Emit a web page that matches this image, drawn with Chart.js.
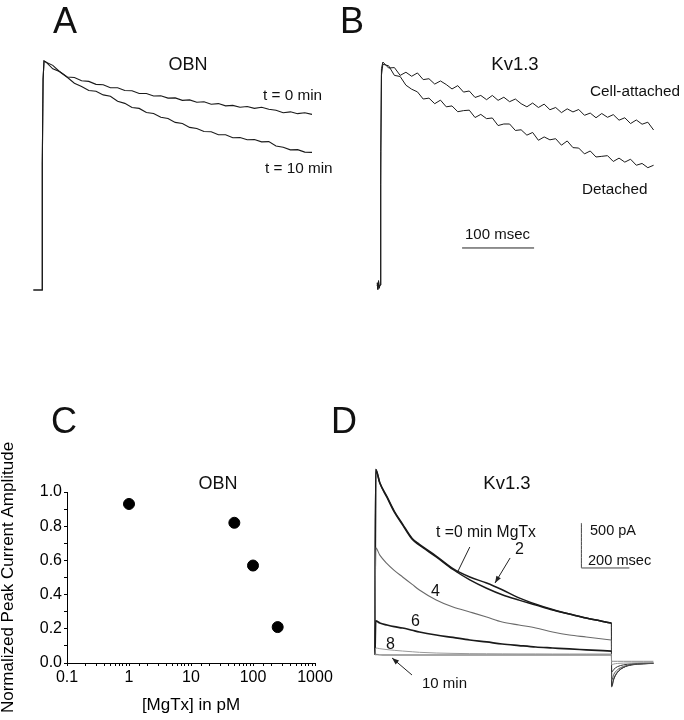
<!DOCTYPE html>
<html>
<head>
<meta charset="utf-8">
<script src="https://cdn.jsdelivr.net/npm/chart.js@4.4.1/dist/chart.umd.min.js"></script>
<style>
  body { margin: 0; background: #fff; }
  #fig { position: relative; width: 684px; height: 720px; overflow: hidden;
         font-family: Arial, "Liberation Sans", Helvetica, sans-serif; color: #111; }
  #fig canvas { position: absolute; }
  .lbl { position: absolute; line-height: 1; white-space: nowrap; }
  .ctr { transform: translateX(-50%); }
  .panel { font-size: 36px; }
</style>
</head>
<body>
<div id="fig">
  <canvas id="chartA"></canvas>
  <canvas id="chartB"></canvas>
  <canvas id="chartC"></canvas>
  <canvas id="chartD"></canvas>

  <div class="lbl panel" style="left:53px;top:3px">A</div>
  <div class="lbl panel" style="left:340px;top:3px">B</div>
  <div class="lbl panel" style="left:51px;top:403px">C</div>
  <div class="lbl panel" style="left:331px;top:403px">D</div>

  <div class="lbl ctr" style="left:188px;top:55px;font-size:18px">OBN</div>
  <div class="lbl" style="left:263px;top:87px;font-size:15.3px">t = 0 min</div>
  <div class="lbl" style="left:265px;top:160px;font-size:15.3px">t = 10 min</div>

  <div class="lbl ctr" style="left:515px;top:55px;font-size:18.5px">Kv1.3</div>
  <div class="lbl" style="left:590px;top:83px;font-size:15.3px">Cell-attached</div>
  <div class="lbl" style="left:582px;top:181px;font-size:15.3px">Detached</div>
  <div class="lbl" style="left:465px;top:226px;font-size:15px">100 msec</div>

  <div class="lbl ctr" style="left:218px;top:474px;font-size:18px">OBN</div>

  <div class="lbl ctr" style="left:507px;top:474px;font-size:18.5px">Kv1.3</div>
  <div class="lbl" style="left:436px;top:524px;font-size:15.7px">t =0 min MgTx</div>
  <div class="lbl" style="left:515px;top:541px;font-size:16px">2</div>
  <div class="lbl" style="left:431px;top:583px;font-size:16px">4</div>
  <div class="lbl" style="left:411px;top:613px;font-size:16px">6</div>
  <div class="lbl" style="left:386px;top:636px;font-size:16px">8</div>
  <div class="lbl" style="left:422px;top:675px;font-size:15px">10 min</div>
  <div class="lbl" style="left:590px;top:523px;font-size:14.5px">500 pA</div>
  <div class="lbl" style="left:588px;top:553px;font-size:14.6px">200 msec</div>
</div>

<script>
// ---- Panel A: OBN currents (time in ms, amplitude normalised to peak) ----
const aTimes = [-12, 0, 0.4, 1.5, 2.8, 5, 15, 25, 35, 45, 55, 65, 75, 85, 95, 105, 115, 125, 135, 145,
  155, 165, 175, 185, 195, 205, 215, 225, 235, 245, 255, 265, 275, 285, 295, 305, 315, 325, 335, 345,
  355, 365, 375];
const aTrace0min = [0, 0, 0.55, 0.92, 1.0, 0.997, 0.966, 0.953, 0.930, 0.928, 0.914, 0.911, 0.898,
  0.896, 0.883, 0.883, 0.871, 0.870, 0.858, 0.858, 0.847, 0.848, 0.838, 0.839, 0.828, 0.830, 0.820,
  0.822, 0.811, 0.814, 0.804, 0.806, 0.798, 0.801, 0.793, 0.798, 0.789, 0.785, 0.774, 0.778, 0.770,
  0.774, 0.767];
const aTrace10min = [0, 0, 0.55, 0.92, 1.0, 0.996, 0.981, 0.952, 0.929, 0.903, 0.889, 0.871, 0.868,
  0.852, 0.846, 0.824, 0.815, 0.797, 0.793, 0.775, 0.771, 0.754, 0.749, 0.732, 0.727, 0.710, 0.705,
  0.692, 0.691, 0.678, 0.678, 0.665, 0.666, 0.656, 0.657, 0.647, 0.648, 0.629, 0.623, 0.612, 0.613,
  0.602, 0.601];

// ---- Panel B: Kv1.3 currents ----
const bTimes = [-4, -3, -2, -1, 0, 1, 2, 4, 12, 20, 28, 36, 44, 52, 60, 68, 76, 84, 92, 100, 108, 116,
  124, 132, 140, 148, 156, 164, 172, 180, 188, 196, 204, 212, 220, 228, 236, 244, 252, 260, 268, 276,
  284, 292, 300, 308, 316, 324, 332, 340, 348, 356, 364, 372, 380];
const bAttached = [0.01, -0.02, 0.015, -0.01, 0, 0.6, 0.97, 1.0, 0.973, 0.975, 0.940, 0.954, 0.936,
  0.951, 0.921, 0.925, 0.901, 0.915, 0.899, 0.879, 0.894, 0.865, 0.870, 0.841, 0.850, 0.831, 0.850,
  0.828, 0.842, 0.822, 0.834, 0.813, 0.799, 0.816, 0.796, 0.811, 0.786, 0.796, 0.773, 0.790, 0.776,
  0.787, 0.761, 0.771, 0.750, 0.769, 0.752, 0.764, 0.739, 0.750, 0.724, 0.740, 0.721, 0.730, 0.695];
const bDetached = [0, -0.01, 0.02, -0.015, 0, 0.45, 0.94, 0.99, 0.983, 0.940, 0.935, 0.896, 0.878,
  0.866, 0.834, 0.838, 0.813, 0.829, 0.799, 0.803, 0.777, 0.782, 0.784, 0.751, 0.765, 0.746, 0.749,
  0.715, 0.722, 0.722, 0.693, 0.696, 0.672, 0.684, 0.649, 0.664, 0.651, 0.656, 0.627, 0.646, 0.616,
  0.614, 0.588, 0.601, 0.574, 0.577, 0.580, 0.554, 0.569, 0.551, 0.564, 0.537, 0.545, 0.526, 0.537];
// scale bar: 100 msec
const bBarTimes = [114, 214];
const bBarLevel = [0.166, 0.166];

// ---- Panel C: dose response ----
const mgtxConc = [1, 50, 100, 250];        // pM
const peakAmp = [0.93, 0.82, 0.57, 0.21];  // normalised

// ---- Panel D: Kv1.3 currents during MgTx (time ms, current pA) ----
const dTimes = [0, 3, 20, 50, 80, 115, 155, 185, 255, 325, 395, 465, 530, 600, 670, 740, 810, 880, 985];
const d0min = [0, 2060, 1910, 1750, 1590, 1445, 1285, 1220, 1090, 950, 835, 742, 670, 610, 556, 500,
  455, 410, 355];
const d2min = [0, 2060, 1915, 1760, 1600, 1455, 1295, 1230, 1100, 960, 867, 800, 725, 635, 565, 505,
  455, 410, 355];
const d4min = [0, 1190, 1110, 1015, 940, 867, 785, 722, 612, 533, 478, 422, 367, 333, 300, 256, 222,
  200, 167];
const d6min = [0, 380, 355, 333, 315, 300, 275, 256, 222, 195, 167, 145, 122, 105, 89, 78, 67, 58, 44];
const d8min = [0, 78, 70, 60, 52, 44, 36, 30, 22, 18, 15, 14, 13, 12, 12, 11, 11, 11, 11];
const d10min = [0, 8, 2, 0, 0, 0, 0, 0, 0, 0, 0, 0, 0, 0, 0, 0, 0, 0, 0];
// tail currents after the step
const dTailTimes = [985, 986, 995, 1010, 1035, 1070, 1120, 1160];
const d0tail = [355, -355, -270, -195, -140, -110, -98, -93];
const d2tail = [355, -340, -260, -190, -138, -108, -97, -92];
const d4tail = [167, -280, -215, -165, -128, -106, -96, -92];
const d6tail = [44, -190, -160, -130, -110, -98, -92, -90];
const d8tail = [11, -110, -100, -94, -90, -88, -86, -85];
const d10tail = [0, -70, -70, -70, -70, -70, -70, -70];
// scale bar: 500 pA / 200 msec
const dBarTimes = [860, 860, 1060];
const dBarCurrent = [1467, 967, 967];
// label arrows
const dArrow0T = [395, 342], dArrow0I = [1200, 911];
const dArrow2T = [563, 500], dArrow2I = [1078, 800];
const dArrow10T = [154, 71], dArrow10I = [-222, -33];

Chart.defaults.font.family = 'Arial, "Liberation Sans", Helvetica, sans-serif';
Chart.defaults.color = '#111';

function pairs(xs, ys) {
  return xs.map((x, i) => ({ x: x, y: ys[i] }));
}

function trace(xs, ys, color, width, extra) {
  return Object.assign({ data: pairs(xs, ys), borderColor: color, backgroundColor: color,
    borderWidth: width, pointRadius: 0, clip: false, fill: false }, extra || {});
}

// draws a filled head at the last point of datasets flagged arrowHead
const arrowHeads = {
  id: 'arrowHeads',
  afterDatasetsDraw(chart) {
    const ctx = chart.ctx;
    chart.data.datasets.forEach((ds, i) => {
      if (!ds.arrowHead) return;
      const pts = chart.getDatasetMeta(i).data;
      const a = pts[pts.length - 2], b = pts[pts.length - 1];
      const ang = Math.atan2(b.y - a.y, b.x - a.x);
      ctx.save();
      ctx.translate(b.x, b.y);
      ctx.rotate(ang);
      ctx.beginPath();
      ctx.moveTo(0, 0);
      ctx.lineTo(-7, -2.6);
      ctx.lineTo(-7, 2.6);
      ctx.closePath();
      ctx.fillStyle = ds.borderColor;
      ctx.fill();
      ctx.restore();
    });
  }
};

// chart with hidden axes; box = canvas on page, o = where (0,0) falls and px per unit
function traceChart(id, box, o, datasets, smooth) {
  const cv = document.getElementById(id);
  cv.width = box.w;
  cv.height = box.h;
  cv.style.left = box.x + 'px';
  cv.style.top = box.y + 'px';
  return new Chart(cv, {
    type: 'line',
    data: { datasets: datasets },
    options: {
      responsive: false,
      animation: false,
      layout: { padding: 0 },
      plugins: { legend: { display: false }, tooltip: { enabled: false } },
      elements: { line: { tension: 0, cubicInterpolationMode: smooth ? 'monotone' : 'default' } },
      scales: {
        x: { type: 'linear', display: false,
             min: (box.x - o.x) / o.sx, max: (box.x + box.w - o.x) / o.sx },
        y: { type: 'linear', display: false,
             min: (o.y - box.y - box.h) / o.sy, max: (o.y - box.y) / o.sy }
      }
    },
    plugins: [arrowHeads]
  });
}

traceChart('chartA', { x: 20, y: 40, w: 320, h: 270 }, { x: 42, y: 290, sx: 0.72, sy: 229 }, [
  trace(aTimes, aTrace0min, '#1a1a1a', 1.1),
  trace(aTimes, aTrace10min, '#1a1a1a', 1.1)
]);

traceChart('chartB', { x: 350, y: 40, w: 334, h: 260 }, { x: 380, y: 285, sx: 0.72, sy: 223 }, [
  trace(bTimes, bAttached, '#1a1a1a', 1),
  trace(bTimes, bDetached, '#1a1a1a', 1),
  trace(bBarTimes, bBarLevel, '#222', 1)
]);

traceChart('chartD', { x: 363, y: 456, w: 300, h: 243 }, { x: 375, y: 655, sx: 0.24, sy: 0.09 }, [
  trace(dTimes, d10min, '#8a8a8a', 1.3),
  trace(dTailTimes, d10tail, '#8a8a8a', 1),
  trace(dTimes, d8min, '#9a9a9a', 1),
  trace(dTailTimes, d8tail, '#9a9a9a', 1),
  trace(dTimes, d6min, '#1a1a1a', 1.7),
  trace(dTailTimes, d6tail, '#333', 1),
  trace(dTimes, d4min, '#6a6a6a', 1.1),
  trace(dTailTimes, d4tail, '#555', 1),
  trace(dTimes, d2min, '#1a1a1a', 1.5),
  trace(dTailTimes, d2tail, '#333', 1),
  trace(dTimes, d0min, '#1a1a1a', 1.5),
  trace(dTailTimes, d0tail, '#333', 1),
  trace(dBarTimes, dBarCurrent, '#444', 1),
  trace(dArrow0T, dArrow0I, '#222', 1),
  trace(dArrow2T, dArrow2I, '#222', 1, { arrowHead: true }),
  trace(dArrow10T, dArrow10I, '#222', 1, { arrowHead: true })
], true);

// ---- Panel C: real axes ----
const cvC = document.getElementById('chartC');
cvC.width = 342;
cvC.height = 280;
cvC.style.left = '0px';
cvC.style.top = '440px';
new Chart(cvC, {
  type: 'scatter',
  data: {
    datasets: [{ data: pairs(mgtxConc, peakAmp), backgroundColor: '#000', borderColor: '#000',
                 pointRadius: 5.5 }]
  },
  options: {
    responsive: false,
    animation: false,
    layout: { padding: { left: 0, right: 27, top: 52, bottom: 0 } },
    plugins: { legend: { display: false }, tooltip: { enabled: false } },
    scales: {
      x: {
        type: 'logarithmic', min: 0.1, max: 1000,
        afterFit: s => { s.height = 57; },
        border: { display: true, color: '#000', width: 1 },
        grid: { drawOnChartArea: false, color: '#000', tickLength: 3 },
        ticks: {
          autoSkip: false, maxRotation: 0, color: '#000', padding: 2, font: { size: 16 },
          callback: v => {
            const l = Math.log10(v);
            return Math.abs(l - Math.round(l)) < 1e-6 ? String(v) : '';
          }
        },
        title: { display: true, text: '[MgTx] in pM', color: '#000', font: { size: 17 },
                 padding: { top: 0, bottom: 4 } }
      },
      y: {
        min: 0, max: 1,
        afterFit: s => { s.width = 67; },
        border: { display: true, color: '#000', width: 1 },
        grid: { drawOnChartArea: false, color: '#000', tickLength: 3 },
        ticks: {
          stepSize: 0.1, autoSkip: false, color: '#000', padding: 2, font: { size: 16 },
          callback: v => (Math.round(v * 10) % 2 === 0 ? v.toFixed(1) : '')
        },
        title: { display: true, text: 'Normalized Peak Current Amplitude', color: '#000',
                 font: { size: 17 }, padding: { top: -2, bottom: 0 } }
      }
    }
  }
});
</script>
</body>
</html>
